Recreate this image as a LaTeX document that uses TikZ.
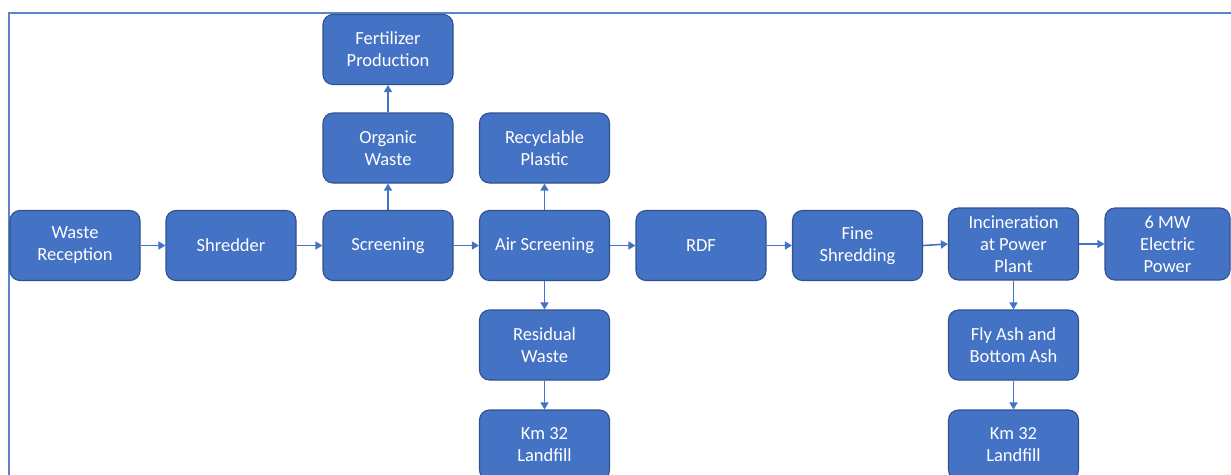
\documentclass[tikz,border=0pt]{standalone}
\usepackage{fontspec}
\setmainfont{Carlito}
\usetikzlibrary{arrows.meta}
\definecolor{boxfill}{HTML}{4472C4}
\definecolor{boxline}{HTML}{2F528F}
\definecolor{framecol}{HTML}{5B85C8}
\tikzset{
  procbox/.style={rectangle, rounded corners=10pt, draw=boxline, line width=1.1pt, fill=boxfill,
    text=white, minimum width=130pt, minimum height=70pt, inner sep=2pt, align=center,
    font=\fontsize{18.5}{22}\selectfont},
  flow/.style={draw=boxfill, line width=1.6pt, -{Triangle[length=7pt,width=8pt]}}
}
\begin{document}
\begin{tikzpicture}[x=1pt,y=-1pt]
\useasboundingbox (0,0) rectangle (1231,474);
\clip (0,0) rectangle (1231,474);
\draw[framecol, line width=2pt] (9,480) -- (9,13) -- (1240,13);
% main row
\node[procbox] (rec) at (75,245.5) {Waste\\Reception};
\node[procbox] (shr) at (231,245.5) {Shredder};
\node[procbox] (scr) at (388,245.5) {Screening};
\node[procbox] (air) at (544.5,245.5) {Air Screening};
\node[procbox] (rdf) at (701,245.5) {RDF};
\node[procbox] (fine) at (857.5,245.5) {Fine\\Shredding};
\node[procbox, minimum height=72pt] (inc) at (1013.5,244) {Incineration\\at Power\\Plant};
\node[procbox, minimum width=125pt, minimum height=72pt] (pow) at (1167.5,244) {6 MW\\Electric\\Power};
% upper
\node[procbox] (org) at (388,148) {Organic\\Waste};
\node[procbox] (fert) at (388,49.5) {Fertilizer\\Production};
\node[procbox] (plast) at (544.5,148) {Recyclable\\Plastic};
% lower
\node[procbox] (resid) at (544.5,345) {Residual\\Waste};
\node[procbox] (land1) at (544.5,445) {Km 32\\Landfill};
\node[procbox] (ash) at (1013.5,345) {Fly Ash and\\Bottom Ash};
\node[procbox] (land2) at (1013.5,445) {Km 32\\Landfill};
% connectors
\draw[flow] (rec) -- (shr);
\draw[flow] (shr) -- (scr);
\draw[flow] (scr) -- (air);
\draw[flow] (air) -- (rdf);
\draw[flow] (rdf) -- (fine);
\draw[flow] (fine.east) -- (inc.west);
\draw[flow] (inc) -- (pow);
\draw[flow] (scr) -- (org);
\draw[flow] (org) -- (fert);
\draw[flow] (air) -- (plast);
\draw[flow] (air) -- (resid);
\draw[flow] (resid) -- (land1);
\draw[flow] (inc) -- (ash);
\draw[flow] (ash) -- (land2);
\end{tikzpicture}
\end{document}
